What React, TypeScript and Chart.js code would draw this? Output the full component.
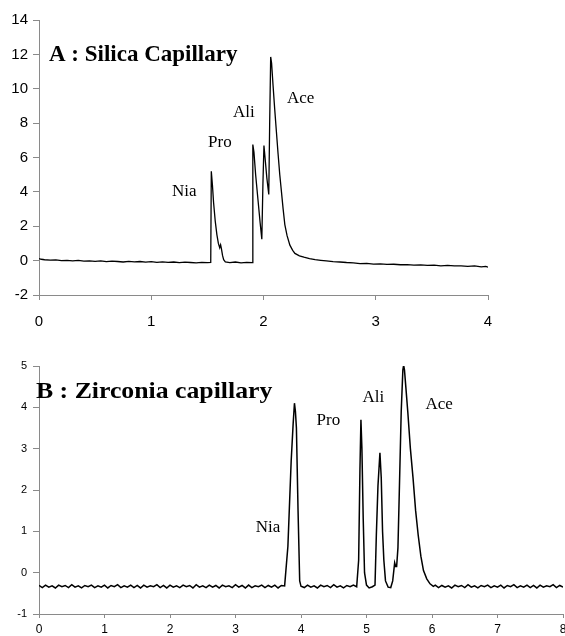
import React, { useEffect, useRef } from "react";
import { Chart, registerables } from "chart.js";

Chart.register(...registerables);

// ---------- Panel A : Silica capillary ----------
const topTime = [
  0, 0.02, 0.05, 0.1, 0.15, 0.2, 0.25, 0.3, 0.35, 0.4, 0.45, 0.5, 0.55, 0.6, 0.65, 0.7, 0.75, 0.8, 0.85, 0.9,
  0.95, 1.0, 1.05, 1.1, 1.15, 1.2, 1.25, 1.3, 1.35, 1.4, 1.45, 1.5, 1.53,
  1.535, 1.545, 1.555, 1.57, 1.585, 1.598, 1.61, 1.618, 1.625, 1.635, 1.645, 1.66,
  1.7, 1.75, 1.8, 1.85, 1.9,
  1.905, 1.915, 1.93, 1.95, 1.97, 1.985, 1.995, 2.004, 2.015, 2.03, 2.047, 2.055, 2.064, 2.072, 2.085, 2.1,
  2.115, 2.13, 2.145, 2.16, 2.175, 2.19, 2.21, 2.235, 2.26, 2.28, 2.32, 2.36, 2.41, 2.46, 2.51, 2.56, 2.62,
  2.68, 2.74, 2.8, 2.86, 2.92, 2.98, 3.04, 3.1, 3.16, 3.22, 3.28, 3.34, 3.4, 3.46, 3.52, 3.58, 3.64, 3.7,
  3.76, 3.82, 3.88, 3.94, 3.98, 4.0,
];
const topSignal = [
  0.12, 0.08, 0.05, 0.03, 0.04, 0.0, 0.02, -0.02, 0.01, -0.03, -0.01, -0.04, -0.02, -0.06, -0.03, -0.05, -0.08, -0.04, -0.07, -0.05,
  -0.09, -0.06, -0.1, -0.07, -0.1, -0.08, -0.12, -0.09, -0.11, -0.13, -0.1, -0.12, -0.1,
  5.2, 4.4, 3.4, 2.3, 1.5, 1.0, 0.75, 0.92, 0.7, 0.3, 0.05, -0.08,
  -0.12, -0.08, -0.13, -0.1, -0.12,
  6.75, 6.3, 5.0, 3.6, 2.2, 1.25, 4.5, 6.7, 5.9, 4.8, 3.85, 8.0, 11.85, 11.5, 10.2, 8.8,
  7.5, 6.2, 5.0, 4.0, 3.0, 2.1, 1.45, 0.9, 0.6, 0.42, 0.28, 0.2, 0.12, 0.06, 0.02, -0.02, -0.06,
  -0.08, -0.11, -0.13, -0.17, -0.16, -0.2, -0.19, -0.22, -0.21, -0.24, -0.23, -0.26, -0.25, -0.28, -0.26, -0.3, -0.28, -0.31,
  -0.3, -0.33, -0.31, -0.36, -0.33, -0.38,
];
const topYTicks = [-2, 0, 2, 4, 6, 8, 10, 12, 14];
const topXTicks = [0, 1, 2, 3, 4];
const topTitle = "A : Silica Capillary";
const topPeakNames = ["Nia", "Pro", "Ali", "Ace"];
const topPeakLabelX = [1.185, 1.506, 1.728, 2.209];
const topPeakLabelY = [3.76, 6.59, 8.33, 9.2];

// ---------- Panel B : Zirconia capillary ----------
const bottomTime = [
  0, 0.05, 0.1, 0.15, 0.2, 0.25, 0.3, 0.35, 0.4, 0.45,
  0.5, 0.55, 0.6, 0.65, 0.7, 0.75, 0.8, 0.85, 0.9, 0.95,
  1.0, 1.05, 1.1, 1.15, 1.2, 1.25, 1.3, 1.35, 1.4, 1.45,
  1.5, 1.55, 1.6, 1.65, 1.7, 1.75, 1.8, 1.85, 1.9, 1.95,
  2.0, 2.05, 2.1, 2.15, 2.2, 2.25, 2.3, 2.35, 2.4, 2.45,
  2.5, 2.55, 2.6, 2.65, 2.7, 2.75, 2.8, 2.85, 2.9, 2.95,
  3.0, 3.05, 3.1, 3.15, 3.2, 3.25, 3.3, 3.35, 3.4, 3.45,
  3.5, 3.55, 3.6, 3.65, 3.7, 3.75,
  3.8, 3.85, 3.88, 3.9, 3.915, 3.93, 3.955, 3.98, 4.0,
  4.05, 4.1, 4.15, 4.2, 4.25, 4.3, 4.35, 4.4, 4.45, 4.5, 4.55, 4.6, 4.65, 4.7, 4.75, 4.8, 4.85,
  4.88, 4.9, 4.915, 4.93, 4.95, 4.97, 5.0, 5.04, 5.09, 5.13,
  5.15, 5.175, 5.205, 5.225, 5.245, 5.265, 5.29, 5.33, 5.37, 5.4, 5.43, 5.445, 5.46, 5.48, 5.5, 5.53,
  5.555, 5.567, 5.58, 5.6, 5.63, 5.67, 5.71, 5.75, 5.79, 5.83, 5.87, 5.92, 5.97, 6.02,
  6.05, 6.1, 6.15, 6.2, 6.25, 6.3, 6.35, 6.4, 6.45, 6.5,
  6.55, 6.6, 6.65, 6.7, 6.75, 6.8, 6.85, 6.9, 6.95, 7.0,
  7.05, 7.1, 7.15, 7.2, 7.25, 7.3, 7.35, 7.4, 7.45, 7.5,
  7.55, 7.6, 7.65, 7.7, 7.75, 7.8, 7.85, 7.9, 7.95, 8.0,
];
const bottomSignal = [
  -0.31, -0.36, -0.3, -0.35, -0.32, -0.37, -0.3, -0.34, -0.31, -0.36,
  -0.29, -0.35, -0.32, -0.37, -0.31, -0.34, -0.3, -0.36, -0.32, -0.35,
  -0.3, -0.37, -0.31, -0.34, -0.29, -0.36, -0.32, -0.35, -0.3, -0.36,
  -0.31, -0.37, -0.3, -0.35, -0.32, -0.34, -0.29, -0.36, -0.31, -0.37,
  -0.3, -0.35, -0.32, -0.36, -0.3, -0.34, -0.31, -0.37, -0.29, -0.35,
  -0.32, -0.36, -0.3, -0.35, -0.31, -0.37, -0.3, -0.34, -0.32, -0.36,
  -0.29, -0.35, -0.31, -0.37, -0.3, -0.36, -0.32, -0.34, -0.3, -0.36,
  -0.31, -0.35, -0.3, -0.37, -0.31, -0.32,
  0.64, 2.7, 3.6, 4.1, 3.9, 3.5, 1.5, -0.2, -0.33,
  -0.36, -0.3, -0.35, -0.32, -0.37, -0.3, -0.34, -0.31, -0.36, -0.29, -0.35, -0.32, -0.37, -0.31, -0.34, -0.3, -0.34,
  0.3, 2.5, 3.7, 3.0, 1.3, 0.0, -0.3, -0.37, -0.34, -0.3,
  0.9, 2.1, 2.9, 2.3, 1.0, 0.3, -0.2, -0.35, -0.36, -0.2, 0.24, 0.15, 0.15, 0.6, 1.9, 3.9,
  4.9, 5.02, 4.9, 4.5, 3.9, 3.0, 2.3, 1.5, 0.9, 0.4, 0.05, -0.15, -0.27, -0.33,
  -0.3, -0.36, -0.31, -0.35, -0.32, -0.37, -0.3, -0.34, -0.31, -0.36,
  -0.29, -0.35, -0.32, -0.37, -0.31, -0.34, -0.3, -0.36, -0.32, -0.35,
  -0.3, -0.37, -0.31, -0.34, -0.29, -0.36, -0.32, -0.35, -0.3, -0.36,
  -0.31, -0.37, -0.3, -0.35, -0.32, -0.34, -0.29, -0.36, -0.31, -0.35,
];
const bottomYTicks = [-1, 0, 1, 2, 3, 4, 5];
const bottomXTicks = [0, 1, 2, 3, 4, 5, 6, 7, 8];
const bottomTitle = "B : Zirconia capillary";
const bottomPeakNames = ["Nia", "Pro", "Ali", "Ace"];
const bottomPeakLabelX = [3.308, 4.238, 4.939, 5.899];
const bottomPeakLabelY = [0.985, 3.57, 4.13, 3.96];

type PanelCfg = {
  time: number[];
  signal: number[];
  yTicks: number[];
  xTicks: number[];
  title: string;
  titleX: number;
  titleY: number;
  titleFont: string;
  titleScaleX: number;
  names: string[];
  lx: number[];
  ly: number[];
  tickFont: number;
  xTickFont: number;
  yPad: number;
  yTickLen: number;
  xPad: number;
  xTickLen: number;
  xAxisHeight: number;
  padding: { top: number; right: number; left: number; bottom: number };
  lineWidth: number;
};

function Panel({ cfg, height, top }: { cfg: PanelCfg; height: number; top: number }) {
  const ref = useRef<HTMLCanvasElement | null>(null);
  useEffect(() => {
    if (!ref.current) return;
    const labelPlugin = {
      id: "peakLabels",
      afterDatasetsDraw(chart: any) {
        const { ctx, scales } = chart;
        const xs = scales.x;
        const ys = scales.y;
        ctx.save();
        ctx.fillStyle = "#000";
        ctx.textAlign = "left";
        ctx.textBaseline = "alphabetic";
        ctx.font = cfg.titleFont;
        ctx.save();
        ctx.translate(xs.getPixelForValue(cfg.titleX), ys.getPixelForValue(cfg.titleY));
        ctx.scale(cfg.titleScaleX, 1);
        ctx.fillText(cfg.title, 0, 0);
        ctx.restore();
        ctx.font = '17px "Liberation Serif", "Times New Roman", serif';
        cfg.names.forEach((n, i) => {
          ctx.fillText(n, xs.getPixelForValue(cfg.lx[i]), ys.getPixelForValue(cfg.ly[i]));
        });
        ctx.restore();
      },
    };
    const chart = new Chart(ref.current, {
      type: "line",
      data: {
        datasets: [
          {
            data: cfg.time.map((t, i) => ({ x: t, y: cfg.signal[i] })),
            borderColor: "#000",
            borderWidth: cfg.lineWidth,
            pointRadius: 0,
            tension: 0,
            fill: false,
          },
        ],
      },
      options: {
        animation: false,
        responsive: false,
        maintainAspectRatio: false,
        layout: { padding: cfg.padding },
        plugins: { legend: { display: false }, tooltip: { enabled: false }, title: { display: false } },
        scales: {
          x: {
            type: "linear",
            min: cfg.xTicks[0],
            max: cfg.xTicks[cfg.xTicks.length - 1],
            afterBuildTicks: (s: any) => {
              s.ticks = cfg.xTicks.map((v) => ({ value: v }));
            },
            afterFit: (s: any) => {
              s.height = cfg.xAxisHeight;
              s.paddingRight = 0;
              s.paddingLeft = 0;
            },
            grid: { drawOnChartArea: false, drawTicks: true, tickLength: cfg.xTickLen, color: "#8a8a8a" },
            border: { display: true, color: "#8a8a8a", width: 1 },
            ticks: {
              color: "#000",
              padding: cfg.xPad,
              maxRotation: 0,
              autoSkip: false,
              font: { size: cfg.xTickFont, family: '"Liberation Sans", Arial, sans-serif' },
              callback: (v: any) => String(v),
            },
          },
          y: {
            type: "linear",
            min: cfg.yTicks[0],
            max: cfg.yTicks[cfg.yTicks.length - 1],
            afterBuildTicks: (s: any) => {
              s.ticks = cfg.yTicks.map((v) => ({ value: v }));
            },
            afterFit: (s: any) => {
              s.width = 39;
            },
            grid: { drawOnChartArea: false, drawTicks: true, tickLength: cfg.yTickLen, color: "#8a8a8a" },
            border: { display: true, color: "#8a8a8a", width: 1 },
            ticks: {
              color: "#000",
              padding: cfg.yPad,
              autoSkip: false,
              font: { size: cfg.tickFont, family: '"Liberation Sans", Arial, sans-serif' },
              callback: (v: any) => String(v),
            },
          },
        },
      },
      plugins: [labelPlugin],
    } as any);
    return () => chart.destroy();
  }, [cfg]);
  return (
    <canvas
      ref={ref}
      width={565}
      height={height}
      style={{ position: "absolute", left: 0, top, width: 565, height }}
    />
  );
}

const topCfg: PanelCfg = {
  time: topTime,
  signal: topSignal,
  yTicks: topYTicks,
  xTicks: topXTicks,
  title: topTitle,
  titleX: 0.089,
  titleY: 11.63,
  titleFont: 'bold 23px "Liberation Serif", "Times New Roman", serif',
  titleScaleX: 1,
  names: topPeakNames,
  lx: topPeakLabelX,
  ly: topPeakLabelY,
  tickFont: 15,
  xTickFont: 15,
  yPad: 5,
  yTickLen: 6,
  xPad: 13,
  xTickLen: 5,
  xAxisHeight: 40,
  padding: { top: 20, right: 77, left: 0, bottom: 0 },
  lineWidth: 1.3,
};

const bottomCfg: PanelCfg = {
  time: bottomTime,
  signal: bottomSignal,
  yTicks: bottomYTicks,
  xTicks: bottomXTicks,
  title: bottomTitle,
  titleX: -0.046,
  titleY: 4.23,
  titleFont: 'bold 23px "Liberation Serif", "Times New Roman", serif',
  titleScaleX: 1.12,
  names: bottomPeakNames,
  lx: bottomPeakLabelX,
  ly: bottomPeakLabelY,
  tickFont: 11,
  xTickFont: 12,
  yPad: 6,
  yTickLen: 6,
  xPad: 4,
  xTickLen: 4,
  xAxisHeight: 22,
  padding: { top: 31, right: 2, left: 0, bottom: 0 },
  lineWidth: 1.5,
};

export default function App() {
  return (
    <div style={{ position: "absolute", left: 0, top: 0, width: 565, height: 636, background: "#fff" }}>
      <Panel cfg={topCfg} height={335} top={0} />
      <Panel cfg={bottomCfg} height={301} top={335} />
    </div>
  );
}
